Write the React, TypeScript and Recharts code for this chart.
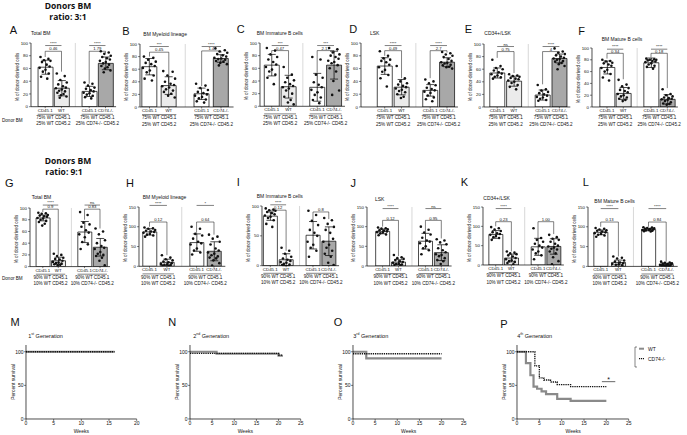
import React from 'react';
import { ComposedChart, Bar, Cell, ErrorBar, Scatter, XAxis, YAxis, ReferenceLine, LineChart, Line } from 'recharts';

const FONT = '"Liberation Sans", Arial, Helvetica, sans-serif';

// ---------- categories / tick labels ----------
const barLabels = ['CD45.1', 'WT', 'CD45.1', 'CD74-/-'];
const groupLabels31 = [['75% WT CD45.1', '25% WT CD45.2'], ['75% WT CD45.1', '25% CD74-/- CD45.2']];
const groupLabels91 = [['90% WT CD45.1', '10% WT CD45.2'], ['90% WT CD45.1', '10% CD74-/- CD45.2']];
const ticks100 = [0, 20, 40, 60, 80, 100];
const ticks150 = [0, 50, 100, 150];
const ticks100b = [0, 50, 100];
const survTicks = [0, 50, 100];
const weeks20 = [0, 5, 10, 15, 20];
const weeks25 = [0, 5, 10, 15, 20, 25];

// ---------- ratio 3:1 ----------
const A_mean = [62, 29, 24, 68];
const A_sd = [11, 12, 8, 10];
const A_dots = [
  [78, 75, 73, 72, 70, 66, 63, 61, 58, 55, 52, 47, 44],
  [52, 48, 42, 38, 35, 32, 30, 29, 27, 25, 24, 22, 20, 18, 16, 14],
  [38, 36, 33, 30, 28, 26, 24, 22, 21, 19, 17, 15, 13],
  [87, 85, 83, 80, 78, 76, 74, 72, 70, 68, 66, 64, 62, 60, 57, 54],
];
const A_sig = [
  { a: 0, b: 1, y: 96, t: '****' }, { a: 0, b: 1, y: 87, t: '0.46', legs: [78, 55] },
  { a: 2, b: 3, y: 96, t: '****' }, { a: 2, b: 3, y: 87, t: '1.79', legs: [36, 84] },
];

const B_mean = [64, 34, 21, 77];
const B_sd = [13, 14, 9, 6];
const B_dots = [
  [80, 78, 75, 72, 70, 68, 65, 62, 58, 55, 50, 45, 42],
  [57, 56, 50, 45, 40, 37, 35, 33, 31, 28, 26, 24, 21, 18, 15],
  [37, 34, 30, 27, 24, 22, 20, 18, 16, 14, 12, 9, 7],
  [93, 90, 88, 86, 84, 82, 80, 78, 77, 76, 75, 73, 72, 70, 68, 66],
];
const B_sig = [
  { a: 0, b: 1, y: 96, t: '***' }, { a: 0, b: 1, y: 87, t: '0.45', legs: [80, 36] },
  { a: 2, b: 3, y: 96, t: '****' }, { a: 2, b: 3, y: 89, t: '1.4', legs: [33, 86] },
];

const C_mean = [65, 31, 30, 65];
const C_sd = [17, 18, 22, 22];
const C_dots = [
  [92, 88, 82, 78, 74, 70, 66, 62, 58, 55, 50, 45, 35],
  [62, 50, 45, 41, 38, 35, 32, 30, 28, 25, 20, 15, 10, 6, 3],
  [78, 74, 50, 45, 38, 34, 30, 26, 22, 18, 14, 10, 5],
  [92, 90, 85, 82, 80, 78, 75, 72, 70, 68, 65, 60, 55, 40, 25, 18],
];
const C_sig = [
  { a: 0, b: 1, y: 96, t: '***' }, { a: 0, b: 1, y: 88, t: '0.47', legs: [84, 50] },
  { a: 2, b: 3, y: 96, t: '***' }, { a: 2, b: 3, y: 88, t: '2.17', legs: [53, 84] },
];

const D_mean = [64, 31, 26, 70];
const D_sd = [13, 12, 9, 7];
const D_dots = [
  [87, 80, 76, 74, 72, 70, 66, 62, 58, 55, 50, 45, 32],
  [64, 45, 40, 37, 35, 33, 31, 29, 27, 25, 23, 20, 16, 14],
  [43, 40, 37, 34, 30, 28, 26, 24, 22, 18, 15, 12, 9],
  [86, 84, 82, 80, 78, 75, 72, 70, 69, 68, 66, 65, 63, 62, 60],
];
const D_sig = [
  { a: 0, b: 1, y: 96, t: '****' }, { a: 0, b: 1, y: 88, t: '0.49', legs: [80, 45] },
  { a: 2, b: 3, y: 96, t: '****' }, { a: 2, b: 3, y: 88, t: '2.7', legs: [45, 85] },
];

const E_mean = [54, 41, 19, 77];
const E_sd = [8, 8, 8, 7];
const E_dots = [
  [75, 65, 62, 60, 58, 55, 53, 52, 50, 48, 47, 45],
  [52, 50, 49, 48, 46, 45, 44, 42, 40, 38, 35, 32, 28],
  [35, 28, 26, 24, 22, 20, 18, 16, 15, 13, 11, 10],
  [93, 88, 86, 84, 82, 80, 78, 77, 76, 75, 73, 72, 70, 68, 65, 60],
];
const E_sig = [
  { a: 0, b: 1, y: 96, t: 'ns' }, { a: 0, b: 1, y: 88, t: '0.75', legs: [78, 54] },
  { a: 2, b: 3, y: 96, t: '****' }, { a: 2, b: 3, y: 88, t: '4', legs: [36, 85] },
];

const F_mean = [67, 23, 75, 13];
const F_sd = [11, 10, 8, 8];
const F_dots = [
  [80, 78, 77, 75, 74, 72, 70, 66, 63, 60, 56, 50, 45],
  [46, 38, 35, 32, 29, 27, 25, 22, 20, 18, 16, 14, 12, 10],
  [82, 81, 80, 80, 79, 78, 77, 76, 74, 72, 70, 68, 65],
  [30, 22, 20, 18, 16, 15, 14, 13, 12, 10, 8, 6, 5, 4],
];
const F_sig = [
  { a: 0, b: 1, y: 98, t: '****' }, { a: 0, b: 1, y: 91, t: '0.34', legs: [82, 47] },
  { a: 2, b: 3, y: 98, t: '****' }, { a: 2, b: 3, y: 91, t: '0.18', legs: [84, 32] },
];

// ---------- ratio 9:1 ----------
const G_mean = [83, 10, 59, 33];
const G_sd = [5, 6, 18, 15];
const G_dots = [
  [92, 91, 90, 88, 87, 86, 85, 83, 82, 80, 78, 76, 73, 70],
  [22, 20, 18, 15, 13, 12, 10, 8, 7, 6, 5, 4, 3, 2],
  [93, 88, 75, 72, 68, 62, 58, 55, 50, 42, 38, 30],
  [65, 60, 55, 45, 40, 35, 32, 30, 25, 22, 20, 18, 15, 10, 2],
];
const G_sig = [
  { a: 0, b: 1, y: 105, t: '****' }, { a: 0, b: 1, y: 98, t: '0.9', legs: [93, 20] },
  { a: 2, b: 3, y: 105, t: 'ns' }, { a: 2, b: 3, y: 98, t: '0.83', legs: [80, 65] },
];

const H_mean = [87, 10, 60, 38];
const H_sd = [8, 8, 22, 24];
const H_dots = [
  [98, 96, 95, 92, 90, 88, 87, 85, 82, 80, 78, 75],
  [28, 22, 18, 15, 12, 10, 8, 6, 5, 4, 3, 2, 1],
  [100, 95, 82, 78, 70, 62, 58, 55, 45, 40, 35, 30],
  [80, 75, 70, 62, 55, 45, 40, 35, 32, 28, 25, 22, 20, 15, 8, 2],
];
const H_sig = [
  { a: 0, b: 1, y: 154, t: '****' }, { a: 0, b: 1, y: 112, t: '0.12', legs: [100, 28] },
  { a: 2, b: 3, y: 154, t: '*' }, { a: 2, b: 3, y: 112, t: '0.64', legs: [85, 80] },
];

const I_mean = [83, 10, 51, 41];
const I_sd = [7, 10, 23, 24];
const I_dots = [
  [96, 94, 93, 92, 90, 88, 86, 84, 82, 80, 76, 70, 65],
  [30, 25, 20, 15, 12, 10, 8, 6, 5, 3, 2, 1],
  [92, 85, 75, 68, 60, 55, 50, 40, 35, 30, 25, 15],
  [80, 76, 70, 65, 60, 55, 45, 40, 35, 30, 25, 20, 15, 5, 1],
];
const I_sig = [
  { a: 0, b: 1, y: 102, t: '****' }, { a: 0, b: 1, y: 93, t: '0.12', legs: [91, 25] },
  { a: 2, b: 3, y: 90, t: '0.8', legs: [75, 78] },
];

const J_mean = [88, 10, 63, 34];
const J_sd = [6, 6, 20, 20];
const J_dots = [
  [98, 96, 95, 93, 91, 90, 88, 86, 85, 83, 80, 78],
  [28, 22, 20, 18, 15, 12, 10, 8, 6, 5, 4, 3, 2],
  [100, 92, 85, 80, 72, 65, 62, 58, 50, 45, 40, 30],
  [68, 65, 60, 55, 45, 40, 35, 30, 28, 25, 20, 15, 12, 5],
];
const J_sig = [
  { a: 0, b: 1, y: 146, t: '****' }, { a: 0, b: 1, y: 116, t: '0.12', legs: [100, 25] },
  { a: 2, b: 3, y: 146, t: 'ns' }, { a: 2, b: 3, y: 116, t: '0.95', legs: [86, 70] },
];

const K_mean = [79, 18, 47, 48];
const K_sd = [10, 10, 22, 20];
const K_dots = [
  [98, 95, 92, 88, 85, 82, 80, 78, 75, 72, 70, 65],
  [35, 32, 30, 28, 25, 22, 18, 15, 12, 10, 8, 5, 2],
  [95, 70, 65, 60, 55, 50, 45, 40, 35, 30, 25, 15],
  [78, 72, 68, 65, 60, 55, 50, 48, 45, 42, 40, 35, 30, 20, 10, 2],
];
const K_sig = [
  { a: 0, b: 1, y: 146, t: '****' }, { a: 0, b: 1, y: 112, t: '0.23', legs: [100, 35] },
  { a: 2, b: 3, y: 112, t: '1.00', legs: [70, 80] },
];

const L_mean = [86, 10, 93, 5];
const L_sd = [6, 6, 3, 3];
const L_dots = [
  [97, 95, 93, 91, 90, 88, 86, 84, 82, 80, 78, 75],
  [25, 22, 20, 15, 12, 10, 8, 6, 5, 4, 3],
  [99, 98, 97, 96, 95, 94, 93, 92, 92, 91, 90, 89, 88],
  [12, 10, 9, 8, 7, 6, 5, 4, 4, 3, 2, 2, 1, 0],
];
const L_sig = [
  { a: 0, b: 1, y: 146, t: '****' }, { a: 0, b: 1, y: 112, t: '0.13', legs: [100, 25] },
  { a: 2, b: 3, y: 146, t: '****' }, { a: 2, b: 3, y: 112, t: '0.84', legs: [100, 12] },
];

// ---------- survival (weeks, percent) ----------
const M_WT = [[0, 100], [16, 100]];
const M_KO = [[0, 100], [16, 100]];
const N_WT = [[0, 100], [6, 97], [20, 94], [21, 94]];
const N_KO = [[0, 97.5], [20, 95], [21, 95]];
const O_WT = [[0, 100], [3, 90], [20, 90]];
const O_KO = [[0, 97], [20, 97]];
const P_WT = [[0, 100], [2, 83], [3, 65], [3.7, 48], [4.5, 45], [5.5, 41], [6.5, 37], [9, 30], [12, 27], [20, 27]];
const P_KO = [[0, 100], [4, 79], [5, 61], [6, 58], [7.5, 55], [9, 51], [12, 48], [20, 48]];

// ---------- layout constants ----------
const BAR_X = [1, 2, 3.7, 4.7];
const SEP_X = 2.85;
const JIT = [-0.8, 0.55, -0.2, 0.9, -0.55, 0.25, 0.75, -0.95, 0.05, -0.4, 0.6, -0.7, 0.35, -0.1, 0.85, -0.3, 0.45, -0.65];
const FILLS = ['#ffffff', '#ebebeb', '#ffffff', '#a8a8a8'];

const dotShape = (props: any) => <circle cx={props.cx} cy={props.cy} r={1.3} fill="#111" />;

function BarPanel(p: any) {
  const u = (p.c4 - p.c1) / 3.7;
  const d0 = 1 - (p.c1 - p.L) / u;
  const d1 = 5.35;
  const plotW = (d1 - d0) * u;
  const ML = 2, YW = 16, MT = 14, MR = 14, H1 = 7, MB = 15;
  const plotH = p.y0 - p.yTop;
  const W = ML + YW + plotW + MR;
  const H = MT + plotH + H1 + MB;
  const data = BAR_X.map((x, i) => ({ x, mean: p.means[i], sd: p.sds[i] }));
  const dotData = p.dots.flatMap((arr: number[], i: number) =>
    arr.map((y, j) => ({ x: BAR_X[i] + JIT[j % JIT.length] * 0.36, y })));
  const gw = u + p.bw;
  const catTick = (tp: any) => {
    const idx = tp.index;
    const label = barLabels[idx];
    const grp = idx === 0 ? p.groups[0] : idx === 2 ? p.groups[1] : null;
    const gx = tp.x + u / 2;
    return (
      <g key={`ct${idx}`}>
        <text x={tp.x} y={tp.y} dy="0.71em" textAnchor="middle" fontSize={4.4} fontFamily={FONT} fill="#111">{label}</text>
        {grp ? (
          <g>
            <line x1={gx - gw / 2} x2={gx + gw / 2} y1={tp.y + 5.8} y2={tp.y + 5.8} stroke="#000" strokeWidth={0.5} />
            <text x={gx} y={tp.y + 10.6} textAnchor="middle" fontSize={4.6} fontFamily={FONT} fill="#111">{grp[0]}</text>
            <text x={gx} y={tp.y + 17} textAnchor="middle" fontSize={4.6} fontFamily={FONT} fill="#111">{grp[1]}</text>
          </g>
        ) : null}
      </g>
    );
  };
  const tickStyle = { fontSize: 4.4, fill: '#111', fontFamily: FONT };
  const sigEls: any[] = [];
  p.sig.forEach((s: any, k: number) => {
    const xa = BAR_X[s.a], xb = BAR_X[s.b];
    sigEls.push(
      <ReferenceLine key={`h${k}`} ifOverflow="visible" segment={[{ x: xa, y: s.y }, { x: xb, y: s.y }]}
        stroke="#000" strokeWidth={0.5}
        label={{ value: s.t, position: 'top', fontSize: 4.2, fill: '#111', offset: 0.8, fontFamily: FONT }} />);
    if (s.legs) {
      sigEls.push(<ReferenceLine key={`l${k}`} ifOverflow="visible" segment={[{ x: xa, y: s.y }, { x: xa, y: s.legs[0] }]} stroke="#000" strokeWidth={0.5} />);
      sigEls.push(<ReferenceLine key={`r${k}`} ifOverflow="visible" segment={[{ x: xb, y: s.y }, { x: xb, y: s.legs[1] }]} stroke="#000" strokeWidth={0.5} />);
    }
  });
  return (
    <div style={{ position: 'absolute', left: p.L - YW - ML, top: p.yTop - MT }}>
      <ComposedChart width={W} height={H} data={data} margin={{ top: MT, right: MR, left: ML, bottom: MB }}>
        <XAxis dataKey="x" type="number" domain={[d0, d1]} allowDataOverflow ticks={BAR_X} interval={0}
          tick={catTick} tickSize={1.5} tickMargin={0.3}
          height={H1} axisLine={{ stroke: '#000', strokeWidth: 0.7 }} tickLine={{ stroke: '#000', strokeWidth: 0.5 }} />
        <XAxis xAxisId="d" dataKey="x" type="number" domain={[d0, d1]} allowDataOverflow hide height={0} />
        <YAxis type="number" domain={[0, p.yMax]} allowDataOverflow ticks={p.yTicks} interval={0} width={YW}
          tick={tickStyle} tickSize={2} tickMargin={1} axisLine={{ stroke: '#000', strokeWidth: 0.7 }}
          tickLine={{ stroke: '#000', strokeWidth: 0.5 }} />
        <ReferenceLine x={SEP_X} stroke="#bdbdbd" strokeWidth={0.6} />
        <Bar dataKey="mean" barSize={p.bw} isAnimationActive={false} stroke="#000" strokeWidth={0.7}>
          {data.map((d, i) => <Cell key={i} fill={FILLS[i]} />)}
          <ErrorBar dataKey="sd" width={4} stroke="#000" strokeWidth={0.7} />
        </Bar>
        <Scatter xAxisId="d" data={dotData} dataKey="y" isAnimationActive={false} shape={dotShape} />
        {sigEls}
      </ComposedChart>
    </div>
  );
}

const SURV_TOP = 344.7;
const SURV_BOT = 418.7;

function SurvPanel(p: any) {
  const ML = 2, YW = 12, MT = 4, MR = 3, HX = 9;
  const plotW = p.R - p.L;
  const plotH = SURV_BOT - SURV_TOP;
  const W = ML + YW + plotW + MR;
  const H = MT + plotH + HX;
  const toPts = (arr: number[][]) => arr.map(([x, y]) => ({ x, y }));
  const tickStyle = { fontSize: 5, fill: '#111', fontFamily: FONT };
  return (
    <div style={{ position: 'absolute', left: p.L - YW - ML, top: SURV_TOP - MT }}>
      <LineChart width={W} height={H} margin={{ top: MT, right: MR, left: ML, bottom: 0 }}>
        <XAxis dataKey="x" type="number" domain={[0, p.xMax]} allowDataOverflow ticks={p.xTicks} interval={0}
          height={HX} tick={tickStyle} tickSize={2} tickMargin={0.5}
          axisLine={{ stroke: '#000', strokeWidth: 0.7 }} tickLine={{ stroke: '#000', strokeWidth: 0.5 }} />
        <YAxis type="number" domain={[0, 110]} allowDataOverflow ticks={survTicks} interval={0} width={YW}
          tick={tickStyle} tickSize={2} tickMargin={0.5}
          axisLine={{ stroke: '#000', strokeWidth: 0.7 }} tickLine={{ stroke: '#000', strokeWidth: 0.5 }} />
        <Line data={toPts(p.wt)} dataKey="y" type="stepAfter" stroke="#8a8a8a" strokeWidth={2.2} dot={false} isAnimationActive={false} />
        <Line data={toPts(p.ko)} dataKey="y" type="stepAfter" stroke="#111" strokeWidth={1.3} strokeDasharray="1.3 0.9" dot={false} isAnimationActive={false} />
        {p.sig ? (
          <ReferenceLine ifOverflow="visible" segment={[{ x: p.sig[0], y: p.sig[2] }, { x: p.sig[1], y: p.sig[2] }]}
            stroke="#000" strokeWidth={0.6}
            label={{ value: '*', position: 'top', fontSize: 7, fill: '#111', offset: 0, fontFamily: FONT }} />
        ) : null}
      </LineChart>
    </div>
  );
}

function T(props: any) {
  const { x, y, s = 5, anchor = 'start', bold = false, rot = false, children, family = FONT } = props;
  const tx = anchor === 'middle' ? '-50%' : '0';
  return (
    <div style={{
      position: 'absolute', left: x, top: y, fontSize: s, lineHeight: 1, whiteSpace: 'nowrap',
      fontWeight: bold ? 700 : 400, fontFamily: family, color: '#111',
      transform: `translate(${tx}, -50%)${rot ? ' rotate(-90deg)' : ''}`,
    }}>{children}</div>
  );
}

const topCfg = [
  { id: 'A', title: 'Total BM', L: 31, c1: 45.2, c4: 105.5, yTop: 43, y0: 106.7, means: A_mean, sds: A_sd, dots: A_dots, sig: A_sig, lx: 13.3, ly: 30, tx: 31, ty: 33.3 },
  { id: 'B', title: 'BM Myeloid lineage', L: 139.5, c1: 149, c4: 220.5, yTop: 43.7, y0: 106.7, means: B_mean, sds: B_sd, dots: B_dots, sig: B_sig, lx: 126, ly: 30.7, tx: 143.3, ty: 34 },
  { id: 'C', title: 'BM Immature B cells', L: 260, c1: 271.7, c4: 334, yTop: 42.7, y0: 106, means: C_mean, sds: C_sd, dots: C_dots, sig: C_sig, lx: 240.7, ly: 29.3, tx: 256.7, ty: 32.7 },
  { id: 'D', title: 'LSK', L: 361, c1: 384.7, c4: 447, yTop: 42.7, y0: 106.7, means: D_mean, sds: D_sd, dots: D_dots, sig: D_sig, lx: 353.3, ly: 29.3, tx: 370, ty: 33.3 },
  { id: 'E', title: 'CD34+/LSK', L: 484.3, c1: 497.5, c4: 559.7, yTop: 43.7, y0: 106.7, means: E_mean, sds: E_sd, dots: E_dots, sig: E_sig, lx: 468.3, ly: 29.3, tx: 484.3, ty: 33.3 },
  { id: 'F', title: 'BM Mature B cells', L: 591.7, c1: 606.7, c4: 667, yTop: 47.7, y0: 106.7, means: F_mean, sds: F_sd, dots: F_dots, sig: F_sig, lx: 581.7, ly: 30.7, tx: 601.7, ty: 39 },
];

const midCfg = [
  { id: 'G', title: 'Total BM', L: 30, c1: 42.8, c4: 100, yTop: 207.7, y0: 266.3, yMax: 100, yTicks: ticks100, means: G_mean, sds: G_sd, dots: G_dots, sig: G_sig, lx: 9.3, ly: 183.3, tx: 31.7, ty: 197 },
  { id: 'H', title: 'BM Myeloid lineage', L: 139, c1: 149.5, c4: 214, yTop: 206.7, y0: 266, yMax: 150, yTicks: ticks150, means: H_mean, sds: H_sd, dots: H_dots, sig: H_sig, lx: 130, ly: 183.3, tx: 142.7, ty: 197 },
  { id: 'I', title: 'BM Immature B cells', L: 261.7, c1: 270, c4: 328.5, yTop: 206, y0: 265.7, yMax: 100, yTicks: ticks100b, means: I_mean, sds: I_sd, dots: I_dots, sig: I_sig, lx: 238.3, ly: 181.7, tx: 256.7, ty: 196 },
  { id: 'J', title: 'LSK', L: 366.7, c1: 382.3, c4: 441, yTop: 206.7, y0: 265.7, yMax: 150, yTicks: ticks150, means: J_mean, sds: J_sd, dots: J_dots, sig: J_sig, lx: 353.3, ly: 183.3, tx: 375, ty: 199.3 },
  { id: 'K', title: 'CD34+/LSK', L: 483.3, c1: 496, c4: 554, yTop: 207.3, y0: 265.3, yMax: 150, yTicks: ticks150, means: K_mean, sds: K_sd, dots: K_dots, sig: K_sig, lx: 464.3, ly: 181.7, tx: 483.3, ty: 197.7 },
  { id: 'L', title: 'BM Mature B cells', L: 588.3, c1: 601, c4: 666.5, yTop: 207.3, y0: 266.7, yMax: 150, yTicks: ticks150, means: L_mean, sds: L_sd, dots: L_dots, sig: L_sig, lx: 585.7, ly: 182.3, tx: 594.3, ty: 200.7 },
];

const survCfg = [
  { id: 'M', sup: 'st', L: 26, R: 136.7, xMax: 20, xTicks: weeks20, wt: M_WT, ko: M_KO, lx: 15, ly: 321.5, tx: 28.3 },
  { id: 'N', sup: 'nd', L: 190, R: 300.7, xMax: 25, xTicks: weeks25, wt: N_WT, ko: N_KO, lx: 172.3, ly: 321.5, tx: 193.3 },
  { id: 'O', sup: 'rd', L: 353.3, R: 464, xMax: 25, xTicks: weeks25, wt: O_WT, ko: O_KO, lx: 338, ly: 321.5, tx: 353.3 },
  { id: 'P', sup: 'th', L: 517.3, R: 629, xMax: 25, xTicks: weeks25, wt: P_WT, ko: P_KO, lx: 504, ly: 324, tx: 517.3, sig: [19, 22, 55.5] },
];
const genNums = ['1', '2', '3', '4'];
const HEAD_FONT = '"Open Sans", "Noto Sans", sans-serif';

export default function App() {
  return (
    <div style={{ position: 'absolute', left: 0, top: 0, width: 687, height: 435, background: '#fff', overflow: 'hidden', fontFamily: FONT }}>
      <T x={68} y={5.5} s={8.5} bold anchor="middle" family={HEAD_FONT}>Donors BM</T>
      <T x={68} y={16.5} s={8.5} bold anchor="middle" family={HEAD_FONT}>ratio:  3:1</T>
      <T x={68} y={160.5} s={8.5} bold anchor="middle" family={HEAD_FONT}>Donors BM</T>
      <T x={64} y={172} s={8.5} bold anchor="middle" family={HEAD_FONT}>ratio:  9:1</T>
      <T x={2} y={121} s={4.6}>Donor BM</T>
      <T x={2} y={279} s={4.6}>Donor BM</T>

      {topCfg.map((c) => (
        <React.Fragment key={c.id}>
          <T x={c.lx} y={c.ly} s={11} anchor="middle">{c.id}</T>
          <T x={c.tx} y={c.ty} s={5}>{c.title}</T>
          <T x={c.L - 13} y={(c.yTop + c.y0) / 2 + 2} s={4.5} anchor="middle" rot>% of donor-derived cells</T>
          <BarPanel {...c} yMax={100} yTicks={ticks100} bw={15} groups={groupLabels31} />
        </React.Fragment>
      ))}

      {midCfg.map((c) => (
        <React.Fragment key={c.id}>
          <T x={c.lx} y={c.ly} s={11} anchor="middle">{c.id}</T>
          <T x={c.tx} y={c.ty} s={5}>{c.title}</T>
          <T x={c.L - 13} y={(c.yTop + c.y0) / 2 + 2} s={4.5} anchor="middle" rot>% of donor-derived cells</T>
          <BarPanel {...c} bw={14} groups={groupLabels91} />
        </React.Fragment>
      ))}

      {survCfg.map((c, i) => (
        <React.Fragment key={c.id}>
          <T x={c.lx} y={c.ly} s={11} anchor="middle">{c.id}</T>
          <T x={c.tx} y={335.7} s={5.5}>{genNums[i]}<sup style={{ fontSize: 3.5 }}>{c.sup}</sup> Generation</T>
          <T x={c.L - 13} y={381.7} s={5} anchor="middle" rot>Percent survival</T>
          <T x={(c.L + c.R) / 2} y={431} s={5} anchor="middle">Weeks</T>
          <SurvPanel {...c} />
        </React.Fragment>
      ))}

      <svg style={{ position: 'absolute', left: 632, top: 344 }} width={12} height={26}>
        <line x1={3} x2={3} y1={3} y2={23} stroke="#333" strokeWidth={0.6} />
        <line x1={3} x2={5} y1={3} y2={3} stroke="#333" strokeWidth={0.6} />
        <line x1={3} x2={5} y1={23} y2={23} stroke="#333" strokeWidth={0.6} />
        <line x1={7} x2={12} y1={4.7} y2={4.7} stroke="#8a8a8a" strokeWidth={2} />
        <line x1={7} x2={12} y1={14.7} y2={14.7} stroke="#111" strokeWidth={1.2} strokeDasharray="1.2 0.8" />
      </svg>
      <T x={648} y={348.7} s={5}>WT</T>
      <T x={648} y={358.7} s={5}>CD74-/-</T>
    </div>
  );
}
